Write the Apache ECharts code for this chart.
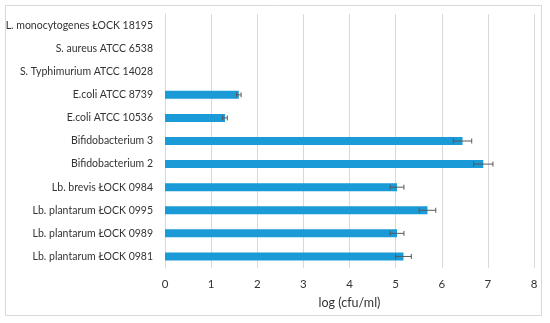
<!DOCTYPE html>
<html>
<head>
<meta charset="utf-8">
<script src="https://cdn.jsdelivr.net/npm/echarts@6/dist/echarts.min.js"></script>
<style>
  html, body { margin: 0; padding: 0; background: #fff; }
  #chart { width: 550px; height: 323px; }
</style>
</head>
<body>
<div id="chart"></div>
<script>
// strains, listed top to bottom as in the figure
const strains = [
  'L. monocytogenes ŁOCK 18195',
  'S. aureus ATCC 6538',
  'S. Typhimurium ATCC 14028',
  'E.coli ATCC 8739',
  'E.coli ATCC 10536',
  'Bifidobacterium 3',
  'Bifidobacterium 2',
  'Lb. brevis ŁOCK 0984',
  'Lb. plantarum ŁOCK 0995',
  'Lb. plantarum ŁOCK 0989',
  'Lb. plantarum ŁOCK 0981'
];
const logCfu = [0, 0, 0, 1.6, 1.3, 6.45, 6.9, 5.03, 5.69, 5.03, 5.17];
const errors = [0, 0, 0, 0.05, 0.05, 0.2, 0.21, 0.15, 0.18, 0.15, 0.17];
const xTicks = [0, 8, 1]; // min, max, interval

const chart = echarts.init(document.getElementById('chart'));

const errData = strains.map((s, i) => [i, logCfu[i] - errors[i], logCfu[i] + errors[i]]);

const option = {
  backgroundColor: '#fff',
  textStyle: { fontFamily: 'Lato, sans-serif' },
  graphic: [{
    type: 'rect',
    shape: { x: 5.5, y: 5.5, width: 536, height: 310 },
    style: { fill: 'none', stroke: '#d9d9d9', lineWidth: 1 },
    silent: true
  }],
  grid: { left: 165, right: 16, top: 14, bottom: 55, outerBoundsMode: 'none', containLabel: false },
  xAxis: {
    type: 'value',
    min: xTicks[0],
    max: xTicks[1],
    interval: xTicks[2],
    name: 'log (cfu/ml)',
    nameLocation: 'middle',
    nameGap: 28,
    nameTextStyle: { fontSize: 12.5, color: '#333' },
    axisLine: { show: false },
    axisTick: { show: false },
    axisLabel: { fontSize: 11.5, color: '#333', margin: 10 },
    splitLine: { lineStyle: { color: '#d9d9d9', width: 1 } }
  },
  yAxis: {
    type: 'category',
    data: strains,
    inverse: true,
    axisLine: { show: true, lineStyle: { color: '#d9d9d9' } },
    axisTick: { show: false },
    axisLabel: { fontSize: 10.5, color: '#333', margin: 12 },
    splitLine: { show: false }
  },
  series: [
    {
      type: 'bar',
      data: logCfu,
      barWidth: 8,
      itemStyle: { color: '#1a9ad6' },
      silent: true
    },
    {
      type: 'custom',
      data: errData,
      silent: true,
      z: 10,
      renderItem: function (params, api) {
        const y = api.value(0);
        const lo = api.coord([api.value(1), y]);
        const hi = api.coord([api.value(2), y]);
        if (api.value(2) - api.value(1) <= 0) return null;
        const cap = 2.5;
        const st = { stroke: '#595959', lineWidth: 1 };
        return {
          type: 'group',
          children: [
            { type: 'line', shape: { x1: lo[0], y1: lo[1], x2: hi[0], y2: hi[1] }, style: st },
            { type: 'line', shape: { x1: lo[0], y1: lo[1] - cap, x2: lo[0], y2: lo[1] + cap }, style: st },
            { type: 'line', shape: { x1: hi[0], y1: hi[1] - cap, x2: hi[0], y2: hi[1] + cap }, style: st }
          ]
        };
      }
    }
  ]
};

chart.setOption(option);
</script>
</body>
</html>
